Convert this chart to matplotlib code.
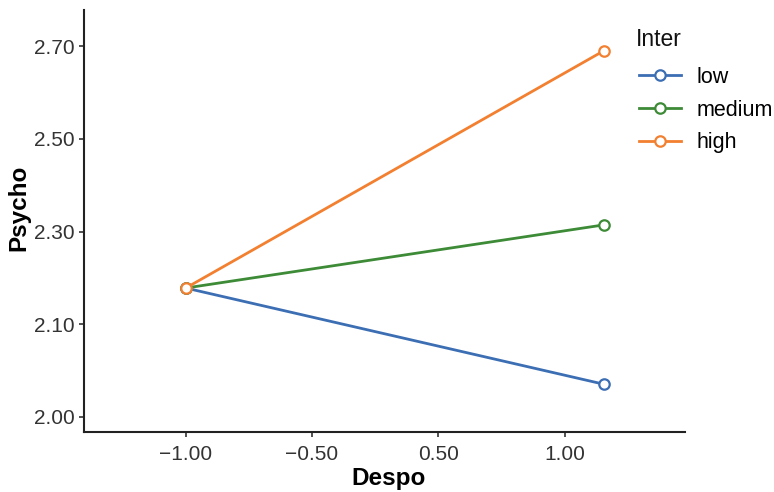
import matplotlib
matplotlib.use("Agg")
import matplotlib.pyplot as plt
from matplotlib.lines import Line2D

plt.rcParams['font.family'] = ['Liberation Sans', 'DejaVu Sans']

# Data (underlying axis positions)
despo = [-1.0, 0.657]
series_names = ["low", "medium", "high"]
low = [2.178, 1.970]
medium = [2.178, 2.3145]
high = [2.178, 2.691]
colors = ["#3C6EB4", "#3D8B37", "#F28030"]

xtick_pos = [-1.0, -0.5, 0.0, 0.5]
xtick_labels = ["\u22121.00", "\u22120.50", "0.50", "1.00"]
ytick_pos = [1.9, 2.1, 2.3, 2.5, 2.7]
ytick_labels = ["2.00", "2.10", "2.30", "2.50", "2.70"]

fig = plt.figure(figsize=(7.74, 4.92), dpi=100)
ax = fig.add_axes([0.1085, 0.122, 0.7765, 0.858])

handles = []
for name, vals, c in zip(series_names, [low, medium, high], colors):
    ax.plot(despo, vals, color=c, lw=2, marker='o', ms=7.5, mfc='white',
            mec=c, mew=1.6, zorder=3)
    handles.append(Line2D([], [], color=c, lw=2, marker='o', ms=7.5,
                          mfc='white', mec=c, mew=1.6, label=name))

ax.set_xlim(-1.403, 0.977)
ax.set_ylim(1.867, 2.779)
ax.set_xticks(xtick_pos)
ax.set_xticklabels(xtick_labels)
ax.set_yticks(ytick_pos)
ax.set_yticklabels(ytick_labels)

for s in ['top', 'right']:
    ax.spines[s].set_visible(False)
for s in ['left', 'bottom']:
    ax.spines[s].set_linewidth(1.5)
    ax.spines[s].set_color('#222222')
ax.tick_params(axis='both', length=3.5, width=1.2, color='#333333',
               labelsize=15, labelcolor='#333333')
ax.tick_params(axis='x', pad=6)
ax.tick_params(axis='y', pad=3)

ax.set_xlabel("Despo", fontsize=17.5, fontweight='bold')
ax.set_ylabel("Psycho", fontsize=17.5, fontweight='bold')
ax.xaxis.set_label_coords(0.506, -0.083)
ax.yaxis.set_label_coords(-0.09, 0.53)

fig.text(636 / 774, 1 - 39 / 492, "Inter", fontsize=16.5, ha='left',
         va='center', color='#111111')

leg = fig.legend(handles=handles, loc='upper left',
                 bbox_to_anchor=(0.815, 0.882), frameon=False,
                 fontsize=15.5, handlelength=1.95,
                 handletextpad=0.7, labelspacing=0.55, borderaxespad=0)

fig.savefig("out.png", dpi=100, facecolor='white')
